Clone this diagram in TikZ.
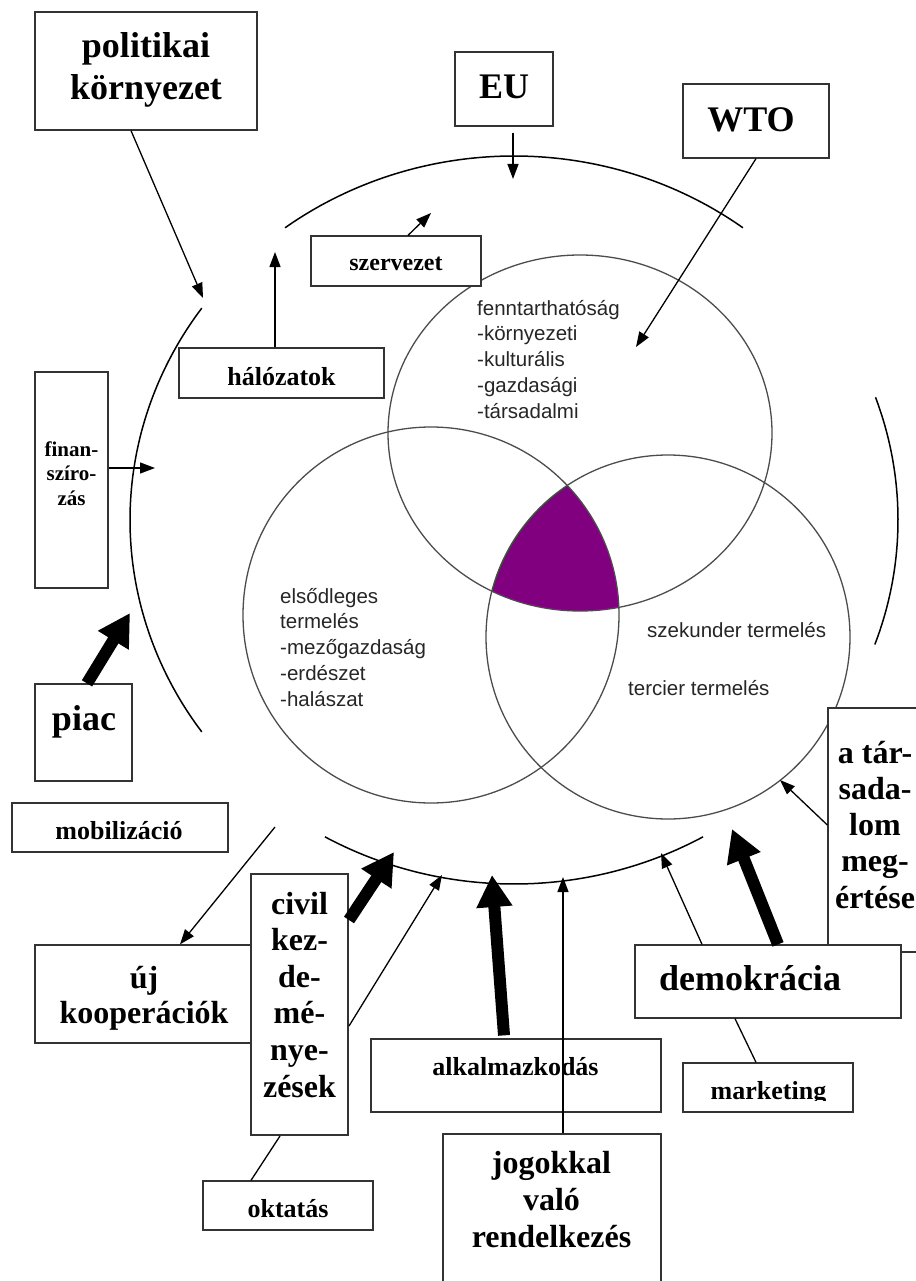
\documentclass[tikz,border=0pt]{standalone}
\usepackage{fontspec}
\setmainfont{Liberation Serif}
\newfontfamily\sansf{Liberation Sans}
\usetikzlibrary{arrows.meta,fit}
\definecolor{vpurple}{HTML}{800080}
\begin{document}
\begin{tikzpicture}[x=1pt,y=-1pt,
  box/.style={draw=black!80, line width=1.3pt, fill=white, inner sep=0pt},
  bigt/.style={font=\bfseries\fontsize{36}{42}\selectfont, align=center, inner sep=0pt},
  medt/.style={font=\bfseries\fontsize{32}{36.6}\selectfont, align=center, inner sep=0pt},
  smt/.style={font=\bfseries\fontsize{26}{30}\selectfont, inner sep=0pt},
  tint/.style={font=\bfseries\fontsize{21}{24.5}\selectfont, align=center, inner sep=0pt},
  sanst/.style={font=\sansf\fontsize{20.5}{25.7}\selectfont, align=left, inner sep=0pt, text=black!85},
  ring/.style={line width=1.5pt},
  venn/.style={draw=black!70, line width=1.3pt},
  thinarr/.style={line width=1.3pt, -{Triangle[length=15pt,width=11pt]}},
  fatarr/.style={line width=12pt, -{Triangle[length=32pt,width=34pt]}},
  link/.style={line width=1.3pt}
]
\useasboundingbox (0,0) rectangle (915,1281);
\fill[white] (0,0) rectangle (915,1281);

% Venn diagram
\begin{scope}
  \clip (580,433) ellipse [x radius=192pt, y radius=178pt];
  \clip (431,615) circle [radius=188pt];
  \fill[vpurple] (668,637) circle [radius=182pt];
\end{scope}
\draw[venn] (580,433) ellipse [x radius=192pt, y radius=178pt];
\draw[venn] (431,615) circle [radius=188pt];
\draw[venn] (668,637) circle [radius=182pt];

% (base anchor of a multi-line node = baseline of its last line)
\node[sanst, anchor=base west] (fennT) at (477,418) {fenntarthatóság\\-környezeti\\-kulturális\\-gazdasági\\-társadalmi};
\node[sanst, anchor=base west] (elsoT) at (280,706) {elsődleges\\termelés\\-mezőgazdaság\\-erdészet\\-halászat};
\node[sanst, anchor=base west] (szekT) at (647,637) {szekunder termelés};
\node[sanst, anchor=base west] (tercT) at (628,695) {tercier termelés};

% outer ring (broken)
\draw[ring] plot[domain=-126.6:-53.4, samples=90, smooth] ({514+384*cos(\x)},{520+364*sin(\x)});
\draw[ring] plot[domain=144.4:215.6, samples=90, smooth] ({514+384*cos(\x)},{520+364*sin(\x)});
\draw[ring] plot[domain=-19.7:20, samples=60, smooth] ({514+384*cos(\x)},{520+364*sin(\x)});
\draw[ring] plot[domain=60.5:119.5, samples=90, smooth] ({514+384*cos(\x)},{520+364*sin(\x)});

% arrow target coordinates
\coordinate (tPol) at (203,298);
\coordinate (tEU) at (513,179);
\coordinate (tWTO) at (636,347);
\coordinate (tSzerv) at (431,213);
\coordinate (tHal) at (275,252);
\coordinate (tFin) at (155,468);
\coordinate (tPiac) at (130,613);
\coordinate (sMob) at (275,827);
\coordinate (tCivA) at (394,852);
\coordinate (tCivB) at (442,875);
\coordinate (tAlk) at (492,875);
\coordinate (tJog) at (563,877);
\coordinate (tDemA) at (661,853);
\coordinate (tDemB) at (732,829);
\coordinate (tTars) at (780,780);

% boxes
\node[box, fit={(35,12) (257,130)}] (pol) {};
\node[bigt, anchor=base] (polT) at (146,100) {politikai\\környezet};

\node[box, fit={(455,52) (553,126)}] (eu) {};
\node[bigt, anchor=base] (euT) at (504,99) {EU};

\node[box, fit={(683,84) (829,158)}] (wto) {};
\node[bigt, anchor=base] (wtoT) at (751,132) {WTO};

\node[box, fit={(311,236) (481,286)}] (szerv) {};
\node[font=\bfseries\fontsize{24}{28}\selectfont, inner sep=0pt, anchor=base] (szervT) at (396,270) {szervezet};

\node[box, fit={(179,348) (384,398)}] (hal) {};
\node[smt, anchor=base] (halT) at (281.5,385) {hálózatok};

\node[box, fit={(35,372) (108,588)}] (fin) {};
\node[tint, anchor=base] (finT) at (71.5,505) {finan-\\szíro-\\zás};

\node[box, fit={(35,684) (132,781)}] (piac) {};
\node[bigt, anchor=base] (piacT) at (84,730) {piac};

\node[box, fit={(12,803) (228,852)}] (mob) {};
\node[smt, anchor=base] (mobT) at (119,839) {mobilizáció};

\node[box, fit={(35,945) (251,1043)}] (koop) {};
\node[font=\bfseries\fontsize{32}{35}\selectfont, align=center, inner sep=0pt, anchor=base] (koopT) at (144,1023) {új\\kooperációk};

\node[box, line width=2pt, fit={(251,874) (348,1135)}] (civ) {};
\node[medt, anchor=base] (civT) at (299.5,1097) {civil\\kez-\\de-\\mé-\\nye-\\zések};

\node[box, fit={(203,1181) (373,1230)}] (okt) {};
\node[smt, anchor=base] (oktT) at (288,1217) {oktatás};

\node[box, fit={(371,1039) (661,1112)}] (alk) {};
\node[smt, anchor=base] (alkT) at (515.5,1075) {alkalmazkodás};

\node[box, fit={(443,1134) (661,1300)}] (jog) {};
\node[font=\bfseries\fontsize{32}{37}\selectfont, align=center, inner sep=0pt, anchor=base] (jogT) at (551.5,1247) {jogokkal\\való\\rendelkezés};

\node[box, fit={(828,708) (925,952)}] (tars) {};
\node[font=\bfseries\fontsize{32}{36.25}\selectfont, align=center, inner sep=0pt, anchor=base] (tarsT) at (875,908) {a tár-\\sada-\\lom\\meg-\\értése};

\node[box, fit={(635,945) (901,1018)}] (demo) {};
\node[bigt, anchor=base] (demoT) at (750,990) {demokrácia};

\node[box, fit={(683,1063) (853,1112)}] (mkt) {};
\begin{scope}
  \clip (683,1063) rectangle (853,1100.5);
  \node[smt, anchor=base] (mktT) at (768.5,1099) {marketing};
\end{scope}

% connectors
\draw[thinarr] ([xshift=-15pt]pol.south) -- (tPol);
\draw[thinarr] ([xshift=9pt,yshift=-6pt]eu.south) -- (tEU);
\draw[thinarr] (wto.south) -- (tWTO);
\draw[thinarr] ([xshift=12pt]szerv.north) -- (tSzerv);
\draw[thinarr] ([xshift=-6.5pt]hal.north) -- (tHal);
\draw[thinarr] ([yshift=12pt]fin.east) -- (tFin);
\draw[fatarr] ([xshift=3.5pt]piac.north) -- (tPiac);
\draw[thinarr] (sMob) -- ([xshift=37pt]koop.north);
\draw[fatarr] ([yshift=84.5pt]civ.east) -- (tCivA);
\draw[thinarr] ([yshift=-21.5pt]civ.east) -- (tCivB);
\draw[link] ([xshift=-19.5pt]civ.south) -- ([xshift=-37pt]okt.north);
\draw[fatarr] ([xshift=-12pt,yshift=3pt]alk.north) -- (tAlk);
\draw[thinarr] ([xshift=11pt]jog.north) -- (tJog);
\draw[thinarr] ([xshift=-66pt]demo.north) -- (tDemA);
\draw[fatarr] ([xshift=10pt]demo.north) -- (tDemB);
\draw[thinarr] ([yshift=5pt]tars.west) -- (tTars);
\draw[link] ([xshift=-33pt]demo.south) -- ([xshift=-12pt]mkt.north);
\end{tikzpicture}
\end{document}
